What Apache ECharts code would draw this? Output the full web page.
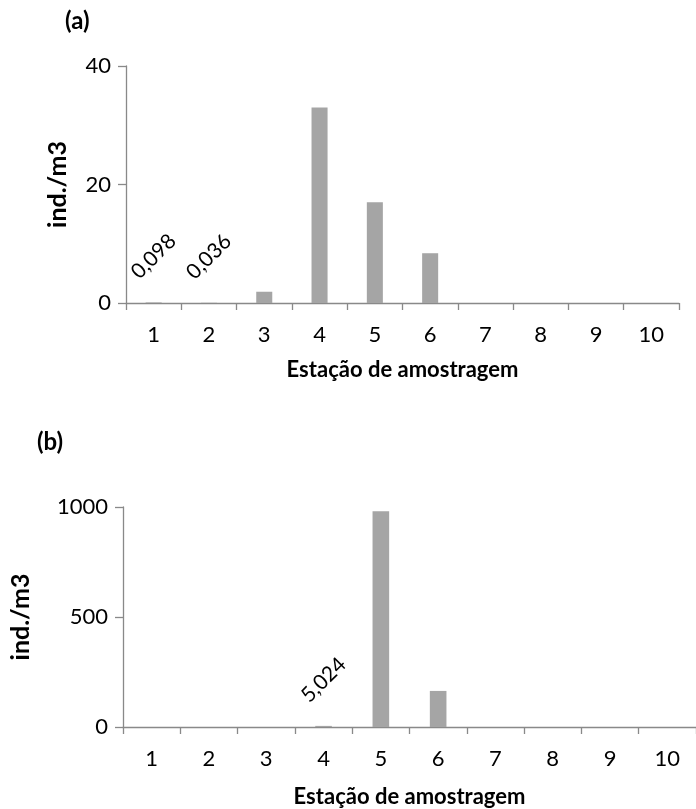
<!DOCTYPE html>
<html>
<head>
<meta charset="utf-8">
<script src="https://cdn.jsdelivr.net/npm/echarts@6/dist/echarts.min.js"></script>
<style>
  html, body { margin: 0; padding: 0; background: #fff; }
  #chart { width: 696px; height: 809px; }
</style>
</head>
<body>
<div id="chart"></div>
<script>
// Sampling stations (x categories) shared by both panels
const stations = ['1', '2', '3', '4', '5', '6', '7', '8', '9', '10'];

// Panel (a): density, ind./m3
const densityA = [0.098, 0.036, 1.9, 33, 17, 8.4, 0, 0, 0, 0];
const labelledA = ['1', '2'];
const ticksA = { min: 0, max: 40, interval: 20 };

// Panel (b): density, ind./m3
const densityB = [0, 0, 0, 5.024, 981, 164, 0, 0, 0, 0];
const labelledB = ['4'];
const ticksB = { min: 0, max: 1000, interval: 500 };

const yTitle = 'ind./m3';
const xTitle = 'Estação de amostragem';

const FONT = 'Lato';
const AXIS = '#898989';
const BAR = '#a5a5a5';

// Decimal comma, as in the value labels
const fmt = v => String(v).replace('.', ',');

function seriesData(values, labelled) {
  return values.map((v, i) => labelled.includes(stations[i])
    ? { value: v, label: { show: true } }
    : v);
}

function xAxisFor(gridIndex, gap) {
  return {
    type: 'category', gridIndex, data: stations,
    axisLine: { lineStyle: { color: AXIS, width: 1.3 } },
    axisTick: { show: true, length: 7, lineStyle: { color: AXIS, width: 1.3 } },
    axisLabel: { color: '#000', fontFamily: FONT, fontSize: 22, margin: 21 },
    name: xTitle, nameLocation: 'middle', nameGap: gap,
    nameTextStyle: { color: '#000', fontFamily: FONT, fontSize: 22, fontWeight: 'bold' }
  };
}

function yAxisFor(gridIndex, t, gap) {
  return {
    type: 'value', gridIndex, min: t.min, max: t.max, interval: t.interval,
    splitLine: { show: false },
    axisLine: { show: true, lineStyle: { color: AXIS, width: 1.3 } },
    axisTick: { show: true, length: 8, lineStyle: { color: AXIS, width: 1.3 } },
    axisLabel: { color: '#000', fontFamily: FONT, fontSize: 22, margin: 15,
                 formatter: v => String(v) },
    name: yTitle, nameLocation: 'middle', nameGap: gap, nameRotate: 90,
    nameTextStyle: { color: '#000', fontFamily: FONT, fontSize: 25, fontWeight: 'bold' }
  };
}

function barSeries(idx, values, labelled) {
  return {
    type: 'bar', xAxisIndex: idx, yAxisIndex: idx,
    data: seriesData(values, labelled),
    barWidth: '29%',
    itemStyle: { color: BAR },
    label: {
      show: false, position: 'top', distance: 46, rotate: 45,
      align: 'center', verticalAlign: 'middle',
      color: '#000', fontFamily: FONT, fontSize: 21,
      formatter: p => fmt(p.value)
    },
    animation: false
  };
}

const chart = echarts.init(document.getElementById('chart'), null, { renderer: 'canvas' });
chart.setOption({
  animation: false,
  grid: [
    { left: 126, top: 66, width: 553, height: 237 },
    { left: 123, top: 507, width: 578, height: 224 }
  ],
  xAxis: [xAxisFor(0, 56), xAxisFor(1, 59)],
  yAxis: [yAxisFor(0, ticksA, 56), yAxisFor(1, ticksB, 90)],
  series: [barSeries(0, densityA, labelledA), barSeries(1, densityB, labelledB)],
  graphic: [
    { type: 'text', left: 65, top: 9,
      style: { text: '(a)', font: 'bold 24px ' + FONT, fill: '#000' } },
    { type: 'text', left: 37, top: 430,
      style: { text: '(b)', font: 'bold 24px ' + FONT, fill: '#000' } }
  ]
});
</script>
</body>
</html>
